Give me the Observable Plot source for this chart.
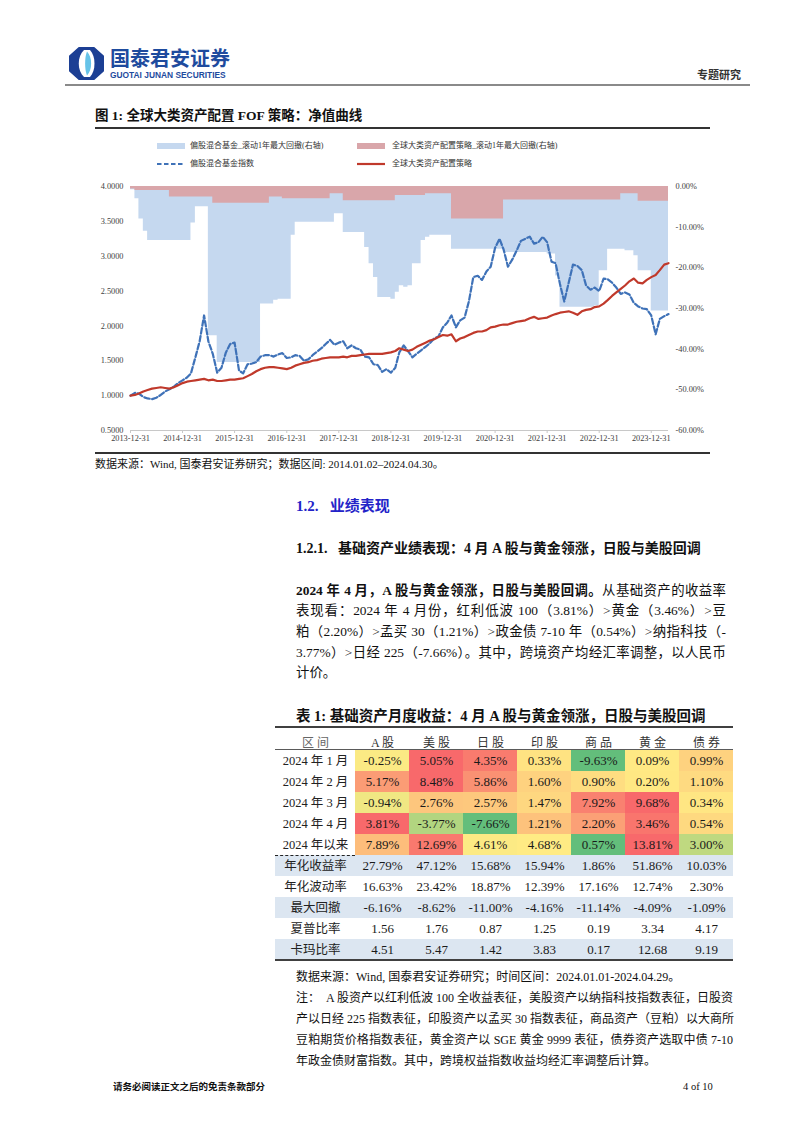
<!DOCTYPE html>
<html><head><meta charset="utf-8">
<script src="https://cdn.jsdelivr.net/npm/d3@7"></script>
<script src="https://cdn.jsdelivr.net/npm/@observablehq/plot@0.6"></script>
<style>
body{margin:0;background:#fff;}
#page{position:relative;width:802px;height:1133px;overflow:hidden;background:#fff;font-family:"Liberation Serif","Noto Sans CJK SC",serif;color:#111;}
.abs{position:absolute;white-space:nowrap;}
.leg{font-size:8px;line-height:12px;color:#333;}
.jl{position:absolute;left:296px;width:430px;white-space:nowrap;text-align:justify;text-align-last:justify;}
.nl{position:absolute;left:296px;width:437px;white-space:nowrap;text-align:justify;text-align-last:justify;font-size:12px;line-height:21px;}
</style></head><body><div id="page">

<svg class="abs" style="left:69px;top:47px" width="35" height="33" viewBox="0 0 35 33">
  <polygon points="10,0.8 25,0.8 34.2,9 34.2,24 25,32.2 10,32.2 0.8,24 0.8,9" fill="#1C3F94" stroke="#1C3F94" stroke-width="1.6" stroke-linejoin="round"/>
  <path d="M15,3 C8,9 8,24 15,30 L21,30 C27,24 27,9 21,3 Z" fill="#ffffff"/>
  <path d="M18,4.5 C23.5,10 23.5,23 18,28.5 C15.5,23 15.5,10 18,4.5 Z" fill="#66C3E8"/>
</svg>
<div class="abs" style="left:110px;top:46px;font:bold 20px/24px 'Noto Sans CJK SC',sans-serif;color:#1E4B9E;">国泰君安证券</div>
<div class="abs" style="left:110px;top:70px;font:bold 8.4px/10px 'Liberation Sans',sans-serif;color:#1E4B9E;">GUOTAI JUNAN SECURITIES</div>
<div class="abs" style="left:697px;top:66px;font-size:11px;line-height:18px;font-weight:bold;color:#333;">专题研究</div>
<div class="abs" style="left:65px;top:84px;width:685px;height:2px;background:#8a8a8a;"></div>

<div class="abs" style="left:95px;top:106px;font-size:13.5px;line-height:20px;font-weight:bold;">图 1: 全球大类资产配置 FOF 策略：净值曲线</div>
<div class="abs" style="left:95px;top:127px;width:615px;height:1.5px;background:#333;"></div>

<div class="abs" style="left:157px;top:143px;width:28px;height:6px;background:#C5D8EF"></div>
<div class="abs leg" style="left:190px;top:140px">偏股混合基金_滚动1年最大回撤(右轴)</div>
<div class="abs" style="left:357px;top:143px;width:28px;height:6px;background:#D9A6AA"></div>
<div class="abs leg" style="left:392px;top:140px">全球大类资产配置策略_滚动1年最大回撤(右轴)</div>
<svg class="abs" style="left:157px;top:161px" width="28" height="6"><line x1="0" y1="3" x2="28" y2="3" stroke="#3F72B8" stroke-width="2.2" stroke-dasharray="4.5,2.5"/></svg>
<div class="abs leg" style="left:190px;top:158px">偏股混合基金指数</div>
<svg class="abs" style="left:357px;top:161px" width="28" height="6"><line x1="0" y1="3" x2="28" y2="3" stroke="#C0392B" stroke-width="2.2"/></svg>
<div class="abs leg" style="left:392px;top:158px">全球大类资产配置策略</div>

<div id="chart" class="abs" style="left:95px;top:180px"></div>
<div class="abs" style="left:95px;top:452px;width:615px;height:1.5px;background:#333;"></div>
<div class="abs" style="left:95px;top:455px;font-size:11px;line-height:18px;">数据来源：Wind, 国泰君安证券研究；数据区间: 2014.01.02–2024.04.30。</div>

<div class="abs" style="left:296px;top:496px;font-size:15px;line-height:20px;font-weight:bold;color:#2323C8;">1.2.&nbsp;&nbsp; 业绩表现</div>
<div class="abs" style="left:296px;top:539px;font-size:14px;line-height:20px;font-weight:bold;">1.2.1.&nbsp;&nbsp; 基础资产业绩表现：4 月 A 股与黄金领涨，日股与美股回调</div>

<div style="position:absolute;left:0;top:580.5px;font-size:13.4px;line-height:20.7px;">
  <div class="jl" style="top:0"><b>2024 年 4 月，A 股与黄金领涨，日股与美股回调。</b>从基础资产的收益率</div>
  <div class="jl" style="top:20.7px">表现看：2024 年 4 月份，红利低波 100（3.81%）&gt;黄金（3.46%）&gt;豆</div>
  <div class="jl" style="top:41.4px">粕（2.20%）&gt;孟买 30（1.21%）&gt;政金债 7-10 年（0.54%）&gt;纳指科技（-</div>
  <div class="jl" style="top:62.1px">3.77%）&gt;日经 225（-7.66%）。其中，跨境资产均经汇率调整，以人民币</div>
  <div class="jl" style="top:82.8px;text-align:left;text-align-last:left;">计价。</div>
</div>

<div class="abs" style="left:296px;top:706px;font-size:14.5px;line-height:20px;font-weight:bold;">表 1: 基础资产月度收益：4 月 A 股与黄金领涨，日股与美股回调</div>
<div id="stripes"></div>
<div id="table" class="abs" style="left:275px;top:727px"></div>
<div class="abs" style="left:275px;top:726px;width:458px;height:2px;background:#404040;"></div>
<div class="abs" style="left:275px;top:749px;width:458px;height:1.3px;background:#5a5a5a;"></div>
<div class="abs" style="left:275px;top:854.5px;width:80px;height:0;border-top:1.2px dashed #222;"></div>
<div class="abs" style="left:275px;top:959px;width:458px;height:2px;background:#404040;"></div>

<div class="abs" style="left:296px;top:966.5px;font-size:12px;line-height:21px;">数据来源：Wind, 国泰君安证券研究；时间区间：2024.01.01-2024.04.29。</div>
<div class="nl" style="top:987.5px">注：&nbsp; A 股资产以红利低波 100 全收益表征，美股资产以纳指科技指数表征，日股资</div>
<div class="nl" style="top:1008.5px">产以日经 225 指数表征，印股资产以孟买 30 指数表征，商品资产（豆粕）以大商所</div>
<div class="nl" style="top:1029.5px">豆粕期货价格指数表征，黄金资产以 SGE 黄金 9999 表征，债券资产选取中债 7-10</div>
<div class="nl" style="top:1050.5px;text-align:left;text-align-last:left;">年政金债财富指数。其中，跨境权益指数收益均经汇率调整后计算。</div>

<div class="abs" style="left:113px;top:1078px;font-size:9.5px;line-height:18px;font-weight:bold;">请务必阅读正文之后的免责条款部分</div>
<div class="abs" style="left:683px;top:1078px;font-size:10.5px;line-height:18px;">4 of 10</div>
</div>

<script>
// ---------- Chart data (month-end, 2013-12-31 .. 2024-04-30) ----------
const fundNav = [1.00,
 1.04,1.03,0.98,0.96,0.95,0.97,1.01,1.06,1.09,1.13,1.18,1.22,
 1.26,1.32,1.55,1.78,2.15,1.78,1.60,1.33,1.40,1.62,1.74,1.76,
 1.36,1.32,1.45,1.46,1.48,1.56,1.58,1.58,1.56,1.59,1.61,1.54,
 1.55,1.58,1.57,1.50,1.52,1.58,1.63,1.68,1.74,1.80,1.73,1.76,
 1.78,1.68,1.72,1.68,1.66,1.56,1.55,1.45,1.44,1.34,1.38,1.33,
 1.40,1.62,1.72,1.64,1.55,1.60,1.65,1.70,1.75,1.82,1.85,1.98,
 2.05,2.15,1.98,2.08,2.12,2.35,2.70,2.72,2.66,2.78,2.85,3.12,
 3.25,3.10,2.85,2.95,3.08,3.22,3.25,3.28,3.18,3.20,3.28,3.20,
 2.92,2.90,2.60,2.35,2.62,2.88,2.86,2.80,2.58,2.52,2.55,2.50,
 2.68,2.67,2.62,2.55,2.46,2.48,2.45,2.33,2.28,2.25,2.24,2.15,
 1.88,2.10,2.14,2.17];
const strategyNav = [1.00,
 1.01,1.03,1.06,1.08,1.10,1.11,1.12,1.11,1.10,1.12,1.15,1.18,
 1.20,1.21,1.22,1.23,1.24,1.22,1.23,1.21,1.21,1.22,1.23,1.23,
 1.24,1.25,1.28,1.31,1.35,1.38,1.40,1.41,1.41,1.40,1.39,1.38,
 1.40,1.43,1.45,1.47,1.48,1.50,1.51,1.53,1.54,1.55,1.55,1.55,
 1.56,1.55,1.57,1.57,1.58,1.59,1.60,1.60,1.60,1.60,1.61,1.62,
 1.64,1.68,1.66,1.64,1.66,1.70,1.73,1.76,1.79,1.81,1.84,1.87,
 1.86,1.88,1.78,1.82,1.84,1.87,1.90,1.92,1.92,1.94,1.98,1.99,
 2.01,2.02,2.02,2.04,2.06,2.07,2.08,2.11,2.13,2.10,2.11,2.12,
 2.15,2.17,2.19,2.20,2.21,2.19,2.16,2.21,2.23,2.24,2.27,2.28,
 2.32,2.37,2.43,2.48,2.53,2.58,2.64,2.68,2.62,2.61,2.66,2.70,
 2.73,2.80,2.88,2.90];
const fundDrawdown = [-0.8,
 -3,-8,-11,-13.3,-13.3,-13.3,-13.3,-13.3,-13.3,-13.3,-13.3,-13.3,
 -13.3,-9,-5,-5,-5,-36.7,-36.7,-43.3,-43.3,-43.3,-43.3,-43.3,
 -43.3,-43.3,-43.3,-43.3,-43.3,-28.9,-28.9,-28.9,-28,-27.7,-27.7,-27.7,
 -12,-8.8,-8.8,-8.8,-8.8,-8.8,-8.8,-8.8,-8.8,-8.8,-6.7,-6.7,
 -11.3,-11.3,-11.3,-11.3,-11.3,-15,-19,-22.4,-27.3,-27.3,-27.3,-27.7,
 -26,-24.4,-24.8,-24.4,-19,-19,-13.3,-12.5,-12,-12,-12,-12,
 -12,-15.4,-15.4,-15.4,-15.4,-15.4,-15.4,-15.4,-15.4,-15.4,-15.4,-15.4,
 -15.4,-16.2,-16.2,-16.2,-16.2,-16.2,-16.2,-16.2,-16.2,-16.2,-16.2,-16.6,
 -16.6,-22,-29.7,-29.7,-29.7,-29.7,-29.7,-29.7,-29.7,-29.7,-29.3,-20.7,
 -20.7,-15.4,-15.4,-15.4,-15.4,-15.8,-15.8,-17,-20.7,-20.7,-20.7,-30.6,
 -30.6,-30.6,-30.6,-30.6];
const strategyDrawdown = [-0.6,
 -1,-1,-1,-1,-1,-1,-1,-1,-2.6,-2.6,-2.6,-2.6,
 -2.6,-2.6,-2.6,-2.6,-2.6,-2.6,-4.1,-4.1,-4.1,-4.1,-4.1,-4.1,
 -4.1,-4.1,-4.1,-4.1,-4.1,-4.1,-4.1,-2.6,-2.6,-2.6,-3,-3,
 -3,-3,-3,-3,-3,-3,-3,-3,-3,-1.8,-1.8,-1.8,
 -3.5,-3.5,-3.5,-3.5,-3.5,-3.5,-3.5,-3.5,-3.5,-3.5,-3.5,-3.5,
 -2.2,-2.2,-2.2,-2.2,-2.2,-2.2,-2.2,-1.8,-1.8,-1.8,-1.8,-1.8,
 -1.8,-8,-8,-8,-8,-8,-8,-8,-8,-8,-8,-8,
 -8,-3.3,-3.3,-3.3,-3.3,-3.3,-3.3,-3.3,-3.3,-3.3,-3.3,-3.3,
 -3.3,-3.3,-3.3,-3.3,-3.3,-3.3,-3.3,-3.3,-3.3,-3.3,-3.3,-3.3,
 -3.3,-3.3,-3.3,-3.3,-1.8,-1.8,-1.8,-1.8,-3.6,-3.6,-3.6,-3.6,
 -3.6,-3.6,-3.6,-3.6];
const xTickLabels = ["2013-12-31","2014-12-31","2015-12-31","2016-12-31","2017-12-31","2018-12-31","2019-12-31","2020-12-31","2021-12-31","2022-12-31","2023-12-31"];
const leftTicks = [0.5,1.0,1.5,2.0,2.5,3.0,3.5,4.0];
const rightTicks = [0,-10,-20,-30,-40,-50,-60];

// ---------- Table data ----------
const assetHeaders = ["A 股","美 股","日 股","印 股","商 品","黄 金","债 券"];
const rowLabels = ["2024 年 1 月","2024 年 2 月","2024 年 3 月","2024 年 4 月","2024 年以来","年化收益率","年化波动率","最大回撤","夏普比率","卡玛比率"];
const jan2024 = [-0.25, 5.05, 4.35, 0.33, -9.63, 0.09, 0.99];
const feb2024 = [5.17, 8.48, 5.86, 1.60, 0.90, 0.20, 1.10];
const mar2024 = [-0.94, 2.76, 2.57, 1.47, 7.92, 9.68, 0.34];
const apr2024 = [3.81, -3.77, -7.66, 1.21, 2.20, 3.46, 0.54];
const ytd2024 = [7.89, 12.69, 4.61, 4.68, 0.57, 13.81, 3.00];
const annReturn = [27.79, 47.12, 15.68, 15.94, 1.86, 51.86, 10.03];
const annVol = [16.63, 23.42, 18.87, 12.39, 17.16, 12.74, 2.30];
const maxDrawdown = [-6.16, -8.62, -11.00, -4.16, -11.14, -4.09, -1.09];
const sharpe = [1.56, 1.76, 0.87, 1.25, 0.19, 3.34, 4.17];
const calmar = [4.51, 5.47, 1.42, 3.83, 0.17, 12.68, 9.19];

const serif = '"Liberation Serif","Noto Sans CJK SC",serif';

// ---------- Chart ----------
const start = new Date(Date.UTC(2014, 0, 1));
const rows = fundNav.map((v, m) => ({
  date: d3.utcDay.offset(d3.utcMonth.offset(start, m), -1),
  fund: v, strat: strategyNav[m], fdd: fundDrawdown[m], sdd: strategyDrawdown[m]
}));
const yTop = 4, yBot = 0.5;
const toLeft = p => yTop + (p / 60) * (yTop - yBot);
const fromLeft = v => Math.round(((v - yTop) / (yTop - yBot)) * 60 * 100) / 100;
const parse = d3.utcParse("%Y-%m-%d");

const chart = Plot.plot({
  width: 615, height: 270,
  marginLeft: 35, marginRight: 42, marginTop: 6, marginBottom: 20,
  x: {type: "utc", domain: [rows[0].date, rows[rows.length - 1].date]},
  y: {domain: [yBot, yTop]},
  style: {fontFamily: serif, fontSize: "8.3px", color: "#404040", background: "transparent", overflow: "visible"},
  marks: [
    Plot.areaY(rows, {x: "date", y1: () => yTop, y2: d => toLeft(d.fdd), curve: "step-after", fill: "#C5D8EF"}),
    Plot.areaY(rows, {x: "date", y1: () => yTop, y2: d => toLeft(d.sdd), curve: "step-after", fill: "#D9A6AA"}),
    Plot.ruleY([yBot], {stroke: "#C8C8C8", strokeWidth: 1}),
    Plot.axisX({ticks: xTickLabels.map(parse), tickFormat: d3.utcFormat("%Y-%m-%d"), tickSize: 3, tickPadding: 2, stroke: "#C8C8C8", fill: "#404040", label: null}),
    Plot.axisY({ticks: leftTicks, tickFormat: d => d.toFixed(4), tickSize: 0, tickPadding: 7, label: null, fill: "#404040"}),
    Plot.axisY({anchor: "right", ticks: rightTicks.map(toLeft), tickFormat: v => fromLeft(v).toFixed(2) + "%", tickSize: 0, tickPadding: 7, label: null, fill: "#404040"}),
    Plot.line(rows, {x: "date", y: "fund", stroke: "#3F72B8", strokeWidth: 2.2, strokeDasharray: "5.5,2.5"}),
    Plot.line(rows, {x: "date", y: "strat", stroke: "#C0392B", strokeWidth: 2.2})
  ]
});
document.getElementById("chart").appendChild(chart);

// ---------- Table ----------
function monthT(vals) {
  const max = d3.max(vals), min = d3.min(vals);
  const neg = Math.max(-min, max);
  return vals.map(v => v >= 0 ? 0.5 + 0.5 * v / max : 0.5 + 0.5 * v / neg);
}
function medianT(vals) {
  const min = d3.min(vals), max = d3.max(vals), med = d3.median(vals);
  return vals.map(v => v <= med ? 0.5 * (v - min) / (med - min) : 0.5 + 0.5 * (v - med) / (max - med));
}
const pct = v => v.toFixed(2) + "%";
const num = v => v.toFixed(2);
const tableRows = [
  {label: rowLabels[0], vals: jan2024, fmt: pct, t: monthT(jan2024)},
  {label: rowLabels[1], vals: feb2024, fmt: pct, t: monthT(feb2024)},
  {label: rowLabels[2], vals: mar2024, fmt: pct, t: monthT(mar2024)},
  {label: rowLabels[3], vals: apr2024, fmt: pct, t: monthT(apr2024)},
  {label: rowLabels[4], vals: ytd2024, fmt: pct, t: medianT(ytd2024)},
  {label: rowLabels[5], vals: annReturn, fmt: pct},
  {label: rowLabels[6], vals: annVol, fmt: pct},
  {label: rowLabels[7], vals: maxDrawdown, fmt: pct},
  {label: rowLabels[8], vals: sharpe, fmt: num},
  {label: rowLabels[9], vals: calmar, fmt: num}
];
const cells = tableRows.flatMap(r => r.vals.map((v, i) => ({row: r.label, asset: assetHeaders[i], value: v, text: r.fmt(v), t: r.t ? r.t[i] : null})));
const colored = cells.filter(d => d.t !== null);

// stat-row stripes (behind the table)
const stripeBox = document.getElementById("stripes");
[5, 7, 9].forEach(i => {
  const d = document.createElement("div");
  d.className = "abs";
  d.style.cssText = `left:275px;top:${750 + 21 * i}px;width:458px;height:21px;background:#DCE6F1;`;
  stripeBox.appendChild(d);
});

const table = Plot.plot({
  width: 458, height: 233,
  marginLeft: 80, marginRight: 0, marginTop: 23, marginBottom: 0,
  x: {type: "band", domain: assetHeaders, padding: 0, axis: null},
  y: {type: "band", domain: rowLabels, padding: 0, axis: null},
  color: {type: "linear", domain: [0, 0.5, 1], range: ["#63BE7B", "#FFEB84", "#F8696B"]},
  style: {fontFamily: serif, fontSize: "13px", color: "#1a1a1a", background: "transparent", overflow: "visible"},
  marks: [
    Plot.cell(colored, {x: "asset", y: "row", fill: "t"}),
    Plot.text(cells, {x: "asset", y: "row", text: "text", fontSize: 13, fill: "#1a1a1a"}),
    Plot.text(assetHeaders, {x: d => d, frameAnchor: "top", dy: -12.5, fontSize: 12, fill: "#333"}),
    Plot.text(["区 间"], {frameAnchor: "top-left", dx: -40, dy: -12.5, fontSize: 12, fill: "#666", textAnchor: "middle"}),
    Plot.text(rowLabels, {y: d => d, frameAnchor: "left", dx: -40, fontSize: 12.5, fill: "#222", textAnchor: "middle"})
  ]
});
document.getElementById("table").appendChild(table);
</script>
</body></html>
